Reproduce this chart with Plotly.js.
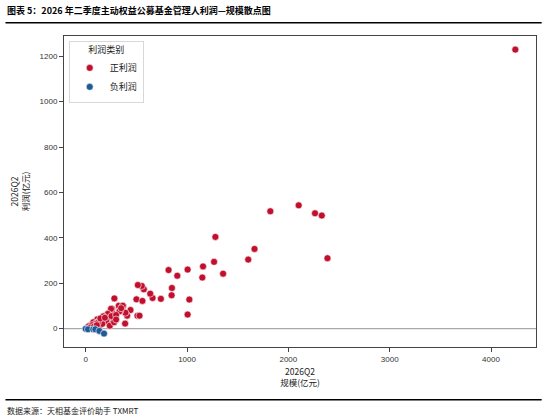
<!DOCTYPE html>
<html>
<head>
<meta charset="utf-8">
<script src="https://cdn.plot.ly/plotly-3.0.1.min.js"></script>
<style>html,body{margin:0;padding:0;background:#fff;}#chart{width:550px;height:415px;}</style>
</head>
<body>
<div id="chart"></div>
<script>
// Positive-profit managers: scale (亿元) and profit (亿元)
var posScale = [4240, 1822, 2102, 2263, 2330, 2386, 1280, 1666, 1604, 1356, 1267, 1158, 1151, 1006, 1023, 1006,
  818, 904, 851, 848, 742, 660, 637, 574, 554, 515, 501, 560, 511, 531, 442, 409, 392, 369, 327, 340, 389,
  283, 260, 267, 224, 231, 273, 171, 155, 188, 115, 135, 92, 59, 75, 30, 240, 208, 250, 333, 366, 218,
  201, 139, 102, 62, 238, 164, 280, 174, 120, 145, 190, 255, 300, 45, 80, 110, 300, 350];
var posProfit = [1229, 517, 543, 508, 498, 310, 404, 351, 304, 242, 294, 274, 225, 260, 128, 62,
  258, 233, 179, 147, 131, 135, 154, 173, 188, 192, 129, 122, 57, 57, 82, 57, 70, 100, 101, 76, 22,
  133, 88, 67, 67, 32, 48, 53, 30, 30, 41, 10, 21, 18, 28, 10, 21, 38, 87, 76, 101, 65,
  32, 35, 23, 15, 13, 21, 28, 54, 25, 45, 48, 55, 60, 5, 8, 15, 40, 90];
// Negative-profit managers
var negScale = [0, 23, 75, 95, 135, 181];
var negProfit = [-1, -3, -3, -3, -10, -22];

var seriesNames = ['正利润', '负利润'];
var legendTitle = '利润类别';
var xTicks = [0, 1000, 2000, 3000, 4000];
var yTicks = [0, 200, 400, 600, 800, 1000, 1200];

var font = 'Liberation Sans, Arial, Noto Sans CJK SC, sans-serif';
var cjk = 'Noto Sans CJK SC, sans-serif';

var traces = [
  {x: posScale, y: posProfit, name: seriesNames[0], type: 'scatter', mode: 'markers',
   marker: {color: '#c0102e', size: 7, line: {color: '#ffffff', width: 0.6}}},
  {x: negScale, y: negProfit, name: seriesNames[1], type: 'scatter', mode: 'markers',
   marker: {color: '#1f5a96', size: 7, line: {color: '#ffffff', width: 0.6}}}
];

var layout = {
  width: 550, height: 415,
  margin: {l: 64, r: 14, t: 36, b: 68},
  paper_bgcolor: '#fff', plot_bgcolor: '#fff',
  showlegend: true,
  legend: {
    x: 0.01, y: 0.985, xanchor: 'left', yanchor: 'top',
    bgcolor: 'rgba(255,255,255,0.9)', bordercolor: '#d8d8d8', borderwidth: 1,
    title: {text: legendTitle, font: {family: cjk, size: 9, color: '#222'}, side: 'top center'},
    font: {family: cjk, size: 9, color: '#222'},
    itemsizing: 'trace', itemwidth: 30, tracegroupgap: 0
  },
  xaxis: {
    range: [-214, 4444], tickvals: xTicks, ticktext: xTicks.map(String),
    showgrid: false, zeroline: false, showline: true, mirror: true, linecolor: '#444', linewidth: 1,
    ticks: 'outside', ticklen: 4, tickcolor: '#444',
    tickfont: {family: font, size: 8, color: '#333'},
    title: {text: '2026Q2<br>规模(亿元)', font: {family: cjk, size: 8.5, color: '#222'}, standoff: 6}
  },
  yaxis: {
    range: [-81, 1289], tickvals: yTicks, ticktext: yTicks.map(String),
    showgrid: false, zeroline: false, showline: true, mirror: true, linecolor: '#444', linewidth: 1,
    ticks: 'outside', ticklen: 4, tickcolor: '#444',
    tickfont: {family: font, size: 8, color: '#333'},
    title: {text: '2026Q2<br>利润(亿元)', font: {family: cjk, size: 8.5, color: '#222'}, standoff: 8}
  },
  shapes: [
    {type: 'line', xref: 'paper', yref: 'y', x0: 0, x1: 1, y0: 0, y1: 0, line: {color: '#aaaaaa', width: 1.2}, layer: 'below'},
    {type: 'line', xref: 'paper', yref: 'paper', x0: -0.124, x1: 1.012, y0: 1.043, y1: 1.043, line: {color: '#000', width: 1.5}},
    {type: 'line', xref: 'paper', yref: 'paper', x0: -0.124, x1: 1.012, y0: -0.17, y1: -0.17, line: {color: '#000', width: 1.5}}
  ],
  annotations: [
    {xref: 'paper', yref: 'paper', x: -0.126, y: 1.083, xanchor: 'left', yanchor: 'middle', showarrow: false,
     text: '<b>图表 5：2026 年二季度主动权益公募基金管理人利润—规模散点图</b>',
     font: {family: cjk, size: 9, color: '#000'}},
    {xref: 'paper', yref: 'paper', x: -0.126, y: -0.205, xanchor: 'left', yanchor: 'middle', showarrow: false,
     text: '数据来源：天相基金评价助手 TXMRT',
     font: {family: cjk, size: 8, color: '#222'}}
  ]
};

Plotly.newPlot('chart', traces, layout, {displayModeBar: false, staticPlot: true});
</script>
</body>
</html>
